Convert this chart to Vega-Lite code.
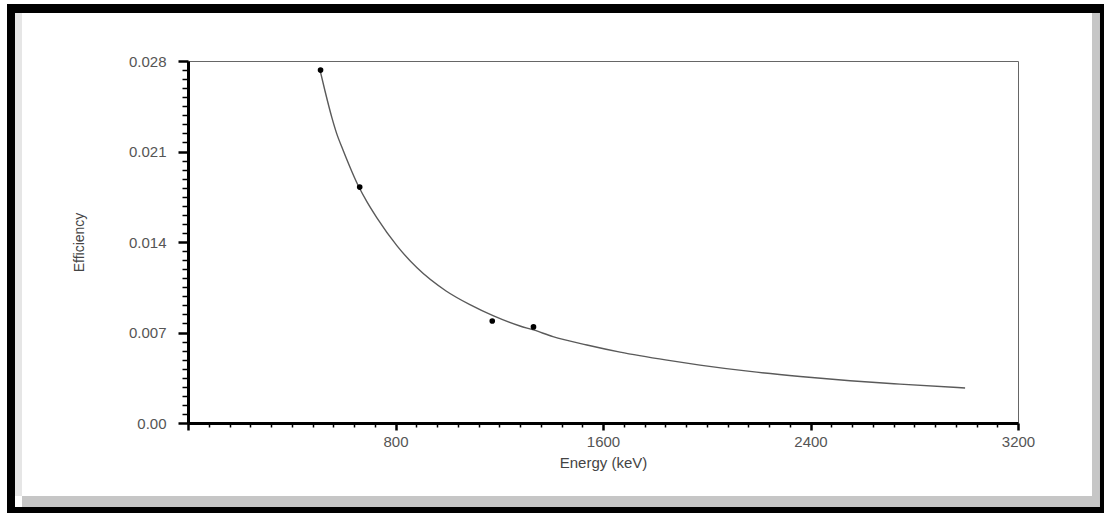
{
  "$schema": "https://vega.github.io/schema/vega-lite/v6.json",
  "width": 830,
  "height": 362,
  "autosize": {"type": "none"},
  "padding": {"left": 188, "top": 61, "right": 86, "bottom": 90},
  "background": "white",
  "config": {
    "view": {"stroke": "#666666", "strokeWidth": 1},
    "font": "Liberation Sans"
  },
  "resolve": {"axis": {"x": "independent", "y": "independent"}, "scale": {"x": "shared", "y": "shared"}},
  "datasets": {
    "curve": [
      {"energy": 509, "efficiency": 0.0273},
      {"energy": 528, "efficiency": 0.0257},
      {"energy": 555, "efficiency": 0.0236},
      {"energy": 573, "efficiency": 0.0224},
      {"energy": 598, "efficiency": 0.0211},
      {"energy": 659, "efficiency": 0.01825},
      {"energy": 689, "efficiency": 0.01714},
      {"energy": 729, "efficiency": 0.01585},
      {"energy": 806, "efficiency": 0.0137},
      {"energy": 883, "efficiency": 0.0120},
      {"energy": 995, "efficiency": 0.01021},
      {"energy": 1087, "efficiency": 0.00915},
      {"energy": 1176, "efficiency": 0.0083},
      {"energy": 1280, "efficiency": 0.0075},
      {"energy": 1332, "efficiency": 0.0072},
      {"energy": 1407, "efficiency": 0.00668},
      {"energy": 1538, "efficiency": 0.00603},
      {"energy": 1666, "efficiency": 0.00548},
      {"energy": 1847, "efficiency": 0.00486},
      {"energy": 1974, "efficiency": 0.00448},
      {"energy": 2167, "efficiency": 0.00399},
      {"energy": 2360, "efficiency": 0.0036},
      {"energy": 2553, "efficiency": 0.00327},
      {"energy": 2745, "efficiency": 0.00301},
      {"energy": 2996, "efficiency": 0.00271}
    ],
    "points": [
      {"energy": 511, "efficiency": 0.0273},
      {"energy": 662, "efficiency": 0.01825},
      {"energy": 1173, "efficiency": 0.00789},
      {"energy": 1332, "efficiency": 0.00743}
    ]
  },
  "layer": [
    {
      "data": {"name": "curve"},
      "mark": {"type": "line", "color": "#5a5a5a", "strokeWidth": 1.4, "interpolate": "monotone"},
      "encoding": {
        "x": {
          "field": "energy",
          "type": "quantitative",
          "scale": {"domain": [0, 3200], "nice": false, "zero": false},
          "axis": {
            "orient": "bottom",
            "title": "Energy (keV)",
            "values": [800, 1600, 2400, 3200],
            "format": "d",
            "tickSize": 7,
            "tickWidth": 2.5,
            "tickColor": "black",
            "domainColor": "black",
            "domainWidth": 3,
            "grid": false,
            "labelColor": "#555555",
            "labelFontSize": 15,
            "labelPadding": 4,
            "labelFlush": false,
            "labelOverlap": false,
            "labelBound": false,
            "titleFontSize": 15,
            "titleFontWeight": "normal",
            "titleColor": "#444444",
            "titlePadding": 6,
            "zindex": 1
          }
        },
        "y": {
          "field": "efficiency",
          "type": "quantitative",
          "scale": {"domain": [0, 0.028], "nice": false, "zero": false},
          "axis": {
            "orient": "left",
            "title": "Efficiency",
            "values": [0.007, 0.014, 0.021, 0.028],
            "format": ".3f",
            "tickSize": 10,
            "tickWidth": 2.5,
            "tickColor": "black",
            "domainColor": "black",
            "domainWidth": 3,
            "grid": false,
            "labelColor": "#555555",
            "labelFontSize": 15,
            "labelPadding": 12,
            "labelFlush": false,
            "labelOverlap": false,
            "labelBound": false,
            "titleFontSize": 14,
            "titleFontWeight": "normal",
            "titleColor": "#444444",
            "titlePadding": 42,
            "zindex": 1
          }
        }
      }
    },
    {
      "data": {"name": "points"},
      "mark": {"type": "point", "filled": true, "color": "black", "size": 32, "opacity": 1},
      "encoding": {
        "x": {
          "field": "energy",
          "type": "quantitative",
          "axis": {
            "orient": "bottom",
            "title": null,
            "labels": false,
            "domain": false,
            "grid": false,
            "values": [80,160,240,320,400,480,560,640,720,880,960,1040,1120,1200,1280,1360,1440,1520,1680,1760,1840,1920,2000,2080,2160,2240,2320,2480,2560,2640,2720,2800,2880,2960,3040,3120],
            "tickSize": 4,
            "tickWidth": 1.5,
            "tickColor": "black",
            "zindex": 1
          }
        },
        "y": {
          "field": "efficiency",
          "type": "quantitative",
          "axis": {
            "orient": "left",
            "title": null,
            "labels": false,
            "domain": false,
            "grid": false,
            "values": [0.0007,0.0014,0.0021,0.0028,0.0035,0.0042,0.0049,0.0056,0.0063,0.0077,0.0084,0.0091,0.0098,0.0105,0.0112,0.0119,0.0126,0.0133,0.0147,0.0154,0.0161,0.0168,0.0175,0.0182,0.0189,0.0196,0.0203,0.0217,0.0224,0.0231,0.0238,0.0245,0.0252,0.0259,0.0266,0.0273],
            "tickSize": 6,
            "tickWidth": 1.5,
            "tickColor": "black",
            "zindex": 1
          }
        }
      }
    },
    {
      "data": {"values": [{}]},
      "mark": {"type": "rect", "color": "#e6e6e6", "clip": false},
      "encoding": {
        "x": {
          "datum": -667.0,
          "type": "quantitative",
          "axis": {
            "orient": "bottom",
            "title": null,
            "labels": false,
            "domain": false,
            "grid": false,
            "values": [0],
            "tickSize": 7,
            "tickWidth": 2.5,
            "tickColor": "black",
            "zindex": 1
          }
        },
        "x2": {"datum": -640.0},
        "y": {
          "datum": 0.031713,
          "type": "quantitative",
          "axis": {
            "orient": "left",
            "title": null,
            "domain": false,
            "grid": false,
            "values": [0],
            "format": ".2f",
            "tickSize": 10,
            "tickWidth": 2.5,
            "tickColor": "black",
            "labelColor": "#555555",
            "labelFontSize": 15,
            "labelPadding": 12,
            "labelFlush": false,
            "labelOverlap": false,
            "labelBound": false,
            "zindex": 1
          }
        },
        "y2": {"datum": -0.005646}
      }
    },
    {
      "data": {"values": [{}]},
      "mark": {"type": "rect", "color": "#c6c6c6", "clip": false},
      "encoding": {
        "x": {"datum": -640.0, "type": "quantitative", "axis": null},
        "x2": {"datum": 3516.1},
        "y": {"datum": -0.005646, "type": "quantitative", "axis": null},
        "y2": {"datum": -0.006497}
      }
    },
    {
      "data": {"values": [{}]},
      "mark": {"type": "rect", "color": "#c6c6c6", "clip": false},
      "encoding": {
        "x": {"datum": 3485.3, "type": "quantitative", "axis": null},
        "x2": {"datum": 3516.1},
        "y": {"datum": 0.031713, "type": "quantitative", "axis": null},
        "y2": {"datum": -0.006497}
      }
    },
    {
      "data": {"values": [{}]},
      "mark": {"type": "rect", "color": "black", "clip": false},
      "encoding": {
        "x": {"datum": -697.83, "type": "quantitative", "axis": null},
        "x2": {"datum": -667.0},
        "y": {"datum": 0.032409, "type": "quantitative", "axis": null},
        "y2": {"datum": -0.006961}
      }
    },
    {
      "data": {"values": [{}]},
      "mark": {"type": "rect", "color": "black", "clip": false},
      "encoding": {
        "x": {"datum": -697.83, "type": "quantitative", "axis": null},
        "x2": {"datum": 3531.6},
        "y": {"datum": 0.032409, "type": "quantitative", "axis": null},
        "y2": {"datum": 0.031713}
      }
    },
    {
      "data": {"values": [{}]},
      "mark": {"type": "rect", "color": "black", "clip": false},
      "encoding": {
        "x": {"datum": 3516.1, "type": "quantitative", "axis": null},
        "x2": {"datum": 3531.6},
        "y": {"datum": 0.032409, "type": "quantitative", "axis": null},
        "y2": {"datum": -0.006961}
      }
    },
    {
      "data": {"values": [{}]},
      "mark": {"type": "rect", "color": "black", "clip": false},
      "encoding": {
        "x": {"datum": -697.83, "type": "quantitative", "axis": null},
        "x2": {"datum": 3531.6},
        "y": {"datum": -0.006497, "type": "quantitative", "axis": null},
        "y2": {"datum": -0.006961}
      }
    }
  ]
}
